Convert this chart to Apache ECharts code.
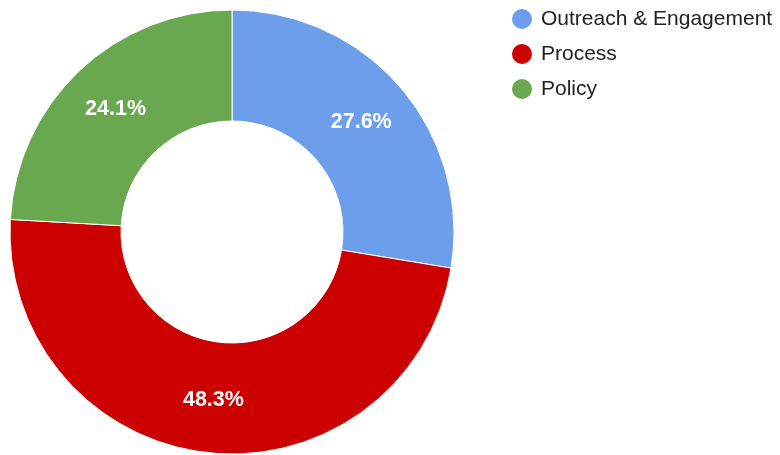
<!DOCTYPE html>
<html>
<head>
<meta charset="utf-8">
<script src="https://cdn.jsdelivr.net/npm/echarts@6/dist/echarts.min.js"></script>
<style>
html,body{margin:0;padding:0;background:#fff;}
#chart{width:780px;height:455px;}
</style>
</head>
<body>
<div id="chart"></div>
<script>
const categories = ["Outreach & Engagement", "Process", "Policy"];
const values = [27.6, 48.3, 24.1];
const colors = ["#6d9eeb", "#cc0000", "#6aa84f"];

const chart = echarts.init(document.getElementById('chart'), null, {renderer: 'canvas'});
chart.setOption({
  animation: false,
  color: colors,
  legend: {
    orient: 'vertical',
    left: 505,
    top: 2,
    icon: 'circle',
    itemWidth: 22,
    itemHeight: 22,
    itemGap: 11,
    data: categories,
    textStyle: {fontFamily: 'Liberation Sans, Arial, sans-serif', fontSize: 21, color: '#222', padding: [0, 0, 0, 3]}
  },
  series: [{
    type: 'pie',
    center: [232, 232],
    radius: [111, 222],
    startAngle: 90,
    clockwise: true,
    avoidLabelOverlap: false,
    itemStyle: {borderColor: '#fff', borderWidth: 1},
    label: {
      position: 'inside',
      color: '#fff',
      fontFamily: 'Liberation Sans, Arial, sans-serif',
      fontSize: 21.5,
      fontWeight: 'bold',
      formatter: p => p.value.toFixed(1) + '%'
    },
    labelLine: {show: false},
    emphasis: {disabled: true},
    data: categories.map((c, i) => ({name: c, value: values[i]}))
  }]
});
</script>
</body>
</html>
